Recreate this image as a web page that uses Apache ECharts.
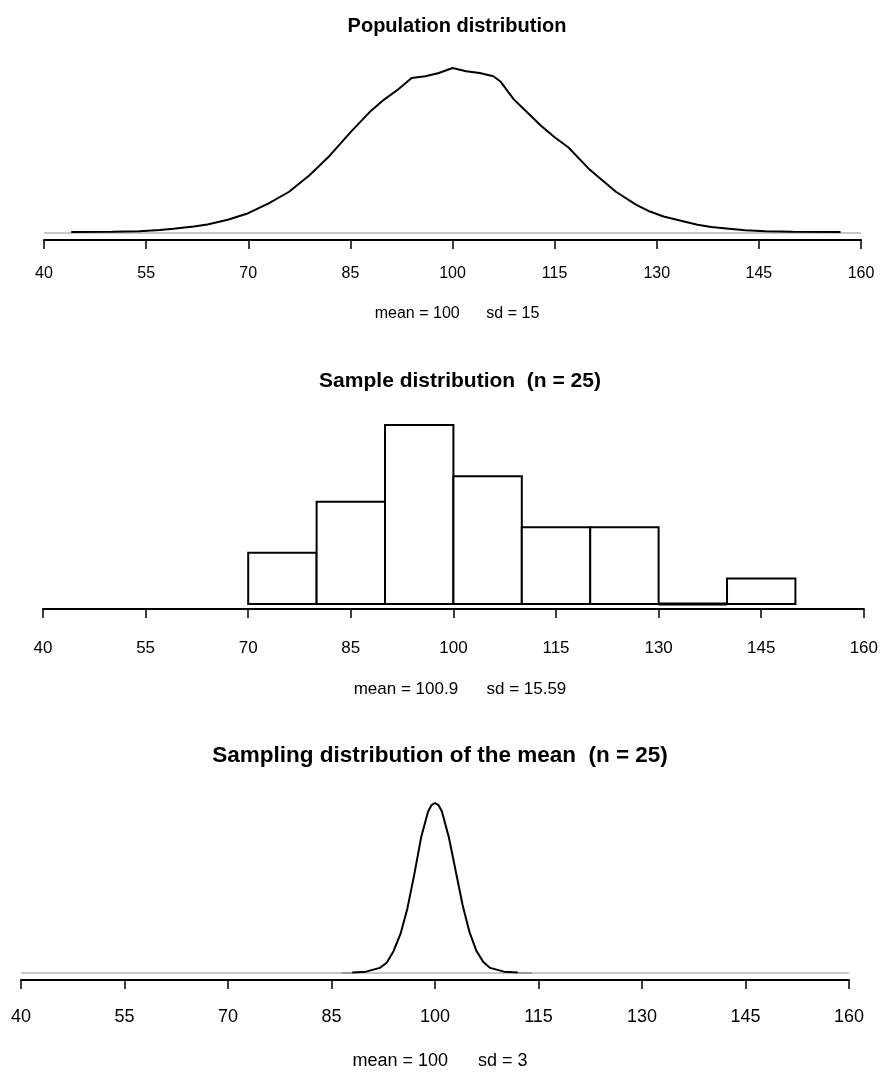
<!DOCTYPE html>
<html>
<head>
<meta charset="utf-8" />
<title>Sampling distribution</title>
<script src="https://cdn.jsdelivr.net/npm/echarts@6/dist/echarts.min.js"></script>
<style>
  html, body { margin: 0; padding: 0; background: #fff; }
  #chart { width: 881px; height: 1076px; }
</style>
</head>
<body>
<div id="chart"></div>
<script>
// x axis ticks shared by all three panels
const xTicks = [40, 55, 70, 85, 100, 115, 130, 145, 160];

// population curve (relative height, peak = 100)
const popX = [44, 50, 54, 57, 59, 62, 64, 67, 70, 73, 76, 79, 82, 85, 88, 90, 92, 94, 96, 98, 100, 102, 104, 106, 107, 109, 111, 113, 115, 117, 120, 122, 124, 127, 129, 131, 134, 136, 138, 141, 143, 146, 150, 157];
const popY = [0.6, 0.8, 1, 1.8, 2.6, 4, 5.2, 8, 12, 18, 25, 35, 47, 61, 74, 81, 87, 94, 95, 97, 100, 98, 97, 95, 92, 81, 73, 65, 58, 52, 39, 32, 25, 17, 13, 10, 7, 5, 3.6, 2.4, 1.6, 1, 0.8, 0.6];

// sample histogram (n = 25)
const histBreaks = [70, 80, 90, 100, 110, 120, 130, 140, 150];
const histCounts = [2, 4, 7, 5, 3, 3, 0, 1];

// sampling distribution of the mean (relative height, peak = 100)
const meanX = [88, 90, 92, 93, 94, 95, 96, 97, 98, 99, 99.5, 100, 100.5, 101, 102, 103, 104, 105, 106, 107, 108, 110, 112];
const meanY = [0.3, 0.8, 3, 6, 13, 23, 38, 58, 80, 95, 98.8, 100, 98.8, 95, 80, 60, 40, 24, 13, 6.5, 3, 0.8, 0.3];

// panel texts
const titles = ["Population distribution", "Sample distribution  (n = 25)", "Sampling distribution of the mean  (n = 25)"];
const subtitles = ["mean = 100      sd = 15", "mean = 100.9      sd = 15.59", "mean = 100      sd = 3"];

const FONT = '"Liberation Sans", Arial, Helvetica, sans-serif';

const chart = echarts.init(document.getElementById("chart"), null, { renderer: "canvas" });

// panel geometry and font sizes (the three plots are not quite the same scale)
const panels = [
  { left: 44, right: 20, top: 68, height: 165, offset: 7, margin: 26, tick: 16, main: 20, cx: 452, titleTop: 11, subTop: 301 },
  { left: 43, right: 14, top: 425, height: 179, offset: 5, margin: 31, tick: 17, main: 21, cx: 455, titleTop: 366, subTop: 676 },
  { left: 21, right: 32, top: 803, height: 170, offset: 7, margin: 28, tick: 18, main: 22.5, cx: 435, titleTop: 739, subTop: 1047 },
];

// one x axis per panel
function makeXAxis(i) {
  const p = panels[i];
  return {
    type: "value",
    gridIndex: i,
    min: 40,
    max: 160,
    position: "bottom",
    offset: p.offset,
    splitLine: { show: false },
    axisLine: { show: true, onZero: false, lineStyle: { color: "#000", width: 2 } },
    axisTick: { show: true, customValues: xTicks, length: 9, lineStyle: { color: "#000", width: 1.5 } },
    axisLabel: { customValues: xTicks, margin: p.margin, color: "#000", fontSize: p.tick, fontFamily: FONT },
  };
}

function makeYAxis(i, max) {
  return { type: "value", gridIndex: i, min: 0, max: max, show: false };
}

function pairs(xs, ys) {
  return xs.map((x, i) => [x, ys[i]]);
}

const histData = histCounts.map((c, i) => [histBreaks[i], histBreaks[i + 1], c]);

const titleList = [];
panels.forEach((p, i) => {
  titleList.push({
    text: titles[i],
    left: p.cx,
    top: p.titleTop,
    textAlign: "center",
    textStyle: { fontSize: p.main, fontWeight: "bold", color: "#000", fontFamily: FONT },
  });
  titleList.push({
    text: subtitles[i],
    left: p.cx,
    top: p.subTop,
    textAlign: "center",
    textStyle: { fontSize: p.tick, fontWeight: "normal", color: "#000", fontFamily: FONT },
  });
});

const option = {
  backgroundColor: "#fff",
  animation: false,
  title: titleList,
  grid: panels.map((p) => ({ left: p.left, right: p.right, top: p.top, height: p.height, containLabel: false })),
  xAxis: [makeXAxis(0), makeXAxis(1), makeXAxis(2)],
  yAxis: [makeYAxis(0, 100), makeYAxis(1, 7), makeYAxis(2, 100)],
  series: [
    // gray baseline, population
    {
      type: "line", xAxisIndex: 0, yAxisIndex: 0, symbol: "none", silent: true,
      data: [[40, 0], [160, 0]],
      lineStyle: { color: "#c8c8c8", width: 2 },
    },
    {
      type: "line", xAxisIndex: 0, yAxisIndex: 0, symbol: "none",
      data: pairs(popX, popY),
      lineStyle: { color: "#000", width: 2 },
    },
    // histogram bins, drawn as closed outlines so an empty bin still shows a line
    {
      type: "custom", xAxisIndex: 1, yAxisIndex: 1,
      data: histData,
      encode: { x: [0, 1], y: 2 },
      renderItem: function (params, api) {
        const tl = api.coord([api.value(0), api.value(2)]);
        const br = api.coord([api.value(1), 0]);
        return {
          type: "polygon",
          shape: { points: [[tl[0], br[1]], [tl[0], tl[1]], [br[0], tl[1]], [br[0], br[1]]] },
          style: { fill: "#fff", stroke: "#000", lineWidth: api.value(2) === 0 ? 3 : 2 },
        };
      },
    },
    // gray baseline, sampling distribution
    {
      type: "line", xAxisIndex: 2, yAxisIndex: 2, symbol: "none", silent: true,
      data: [[40, 0], [160, 0]],
      lineStyle: { color: "#c8c8c8", width: 2 },
    },
    {
      type: "line", xAxisIndex: 2, yAxisIndex: 2, symbol: "none", silent: true,
      data: [[86.5, 0], [88, 0], null, [112, 0], [114, 0]],
      connectNulls: false,
      lineStyle: { color: "#999", width: 2 },
    },
    {
      type: "line", xAxisIndex: 2, yAxisIndex: 2, symbol: "none",
      data: pairs(meanX, meanY),
      lineStyle: { color: "#000", width: 2 },
    },
  ],
};

chart.setOption(option);
</script>
</body>
</html>
